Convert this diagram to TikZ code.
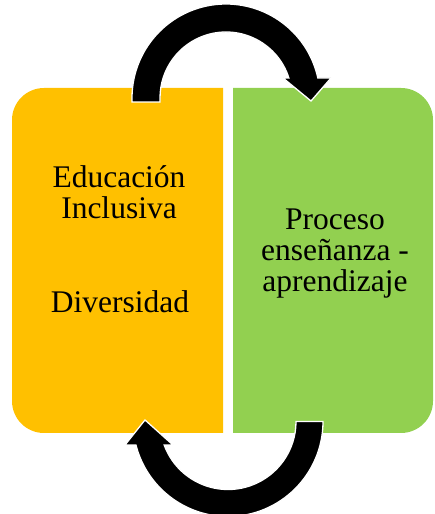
\documentclass[tikz,border=0pt]{standalone}
\usepackage{fontspec}
\setmainfont{Liberation Serif}
\definecolor{educolor}{HTML}{FFC000}
\definecolor{proccolor}{HTML}{92D050}
\tikzset{
  bigarrow/.style={fill=black, draw=white, line width=1.3pt, line join=miter},
  boxtext/.style={align=center, inner sep=0pt, font=\fontsize{31.5}{31}\selectfont}
}
\begin{document}
\begin{tikzpicture}[x=1pt,y=1pt]
    \useasboundingbox (0,0) rectangle (434,514);
    % boxes
    \fill[educolor] (223,426) -- (44,426) arc[start angle=90,end angle=180,radius=32]
      -- (12,113) arc[start angle=180,end angle=270,radius=32] -- (223,81) -- cycle;
    \fill[proccolor] (233,426) -- (401,426) arc[start angle=90,end angle=0,radius=32]
      -- (433,113) arc[start angle=0,end angle=-90,radius=32] -- (233,81) -- cycle;

    \node[boxtext, anchor=base] (edu) at (119,295) {Educación\\Inclusiva};
    \node[boxtext, anchor=base] (div) at (120,201) {Diversidad};
    \node[boxtext, anchor=base] (proc) at (335,222) {Proceso\\enseñanza -\\aprendizaje};

    % arrows
    \coordinate (topc) at (226,416);
    \coordinate (botc) at (228,92.5);
    \draw[bigarrow] ([shift={(topc)}]-94,-4) -- ([shift={(topc)}]-94,0)
      arc[start angle=180,end angle=12.3,radius=94] -- (331,436) -- (311,413) -- (283,436)
      -- ([shift={(topc)}]17.6:66) arc[start angle=17.6,end angle=180,radius=66]
      -- ([shift={(topc)}]-66,-4) -- cycle;
    \draw[bigarrow] ([shift={(botc)}]95,0)
      arc[start angle=0,end angle=-165.7,radius=95] -- (125,69) -- (145,94) -- (173,69)
      -- ([shift={(botc)}]-159.8:68) arc[start angle=-159.8,end angle=0,radius=68]
      -- cycle;
\end{tikzpicture}
\end{document}
